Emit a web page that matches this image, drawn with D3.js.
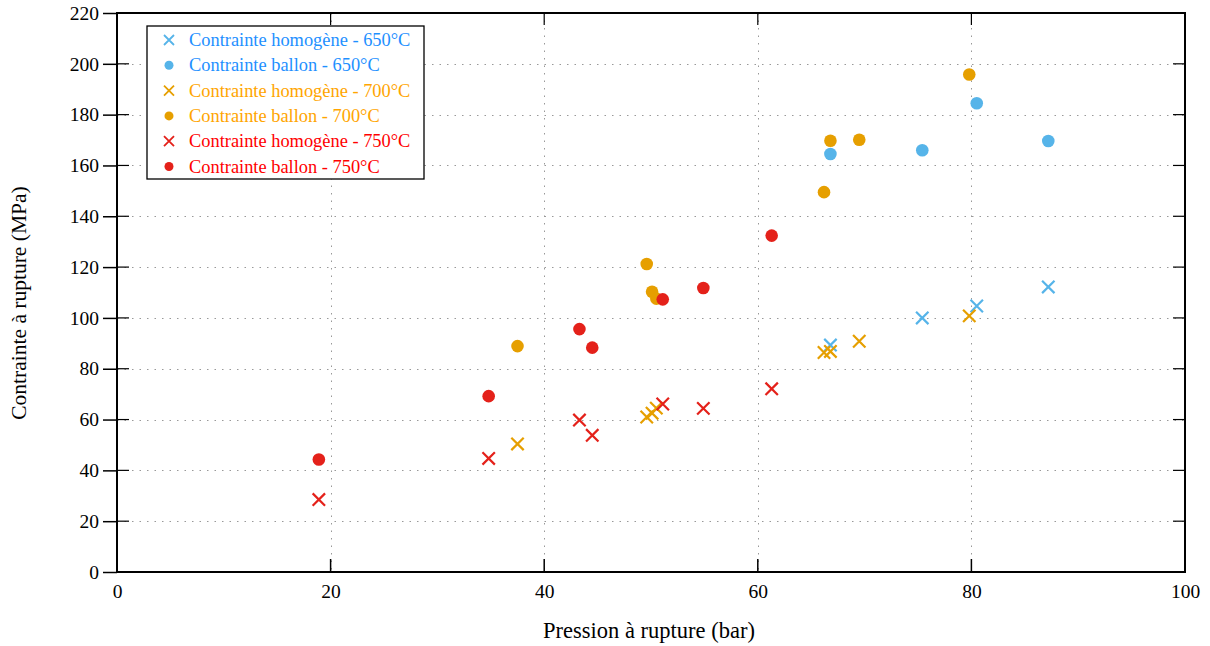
<!DOCTYPE html>
<html>
<head>
<meta charset="utf-8">
<script src="https://cdn.jsdelivr.net/npm/d3@7"></script>
<style>
  html, body { margin: 0; padding: 0; background: #fff; }
  svg { display: block; font-family: "Liberation Serif", "DejaVu Serif", serif; }
</style>
</head>
<body>
<svg id="chart" width="1210" height="646"></svg>
<script>
// ---- Data ----
const xTicks = [0, 20, 40, 60, 80, 100];
const yTicks = [0, 20, 40, 60, 80, 100, 120, 140, 160, 180, 200, 220];

const homog650_x = [66.8, 75.4, 80.5, 87.2];
const homog650_y = [89.3, 100.0, 104.7, 112.2];
const ballon650_x = [66.8, 75.4, 80.5, 87.2];
const ballon650_y = [164.5, 166.0, 184.5, 169.6];

const homog700_x = [37.5, 49.6, 50.1, 50.5, 66.2, 66.8, 69.5, 79.8];
const homog700_y = [50.4, 61.0, 62.5, 64.5, 86.4, 86.8, 90.8, 100.8];
const ballon700_x = [37.5, 49.6, 50.1, 50.5, 66.2, 66.8, 69.5, 79.8];
const ballon700_y = [88.9, 121.2, 110.3, 107.6, 149.5, 169.7, 170.1, 195.8];

const homog750_x = [18.9, 34.8, 43.3, 44.5, 51.1, 54.9, 61.3];
const homog750_y = [28.5, 44.7, 59.8, 53.8, 66.1, 64.4, 72.1];
const ballon750_x = [18.9, 34.8, 43.3, 44.5, 51.1, 54.9, 61.3];
const ballon750_y = [44.3, 69.2, 95.6, 88.3, 107.3, 111.8, 132.4];

const seriesNames = [
  "Contrainte homogène - 650°C",
  "Contrainte ballon - 650°C",
  "Contrainte homogène - 700°C",
  "Contrainte ballon - 700°C",
  "Contrainte homogène - 750°C",
  "Contrainte ballon - 750°C"
];
const markerColors = ["#56B4E9", "#56B4E9", "#E69F00", "#E69F00", "#E4211A", "#E4211A"];
const textColors = ["#1E90FF", "#1E90FF", "#FFA500", "#FFA500", "#FF0000", "#FF0000"];
const markerTypes = ["cross", "circle", "cross", "circle", "cross", "circle"];

const series = [
  {x: homog650_x, y: homog650_y},
  {x: ballon650_x, y: ballon650_y},
  {x: homog700_x, y: homog700_y},
  {x: ballon700_x, y: ballon700_y},
  {x: homog750_x, y: homog750_y},
  {x: ballon750_x, y: ballon750_y}
].map((s, i) => ({
  name: seriesNames[i], color: markerColors[i], textColor: textColors[i], type: markerTypes[i],
  points: s.x.map((v, j) => ({x: v, y: s.y[j]}))
}));

// ---- Layout ----
const W = 1210, H = 646;
const margin = {left: 117, right: 25, top: 13, bottom: 74};
const iw = W - margin.left - margin.right;
const ih = H - margin.top - margin.bottom;

const svg = d3.select("#chart");
const g = svg.append("g").attr("transform", `translate(${margin.left},${margin.top})`);

const x = d3.scaleLinear().domain([0, 100]).range([0, iw]);
const y = d3.scaleLinear().domain([0, 220]).range([ih, 0]);

// grid
g.append("g").selectAll("line").data(yTicks.slice(1, -1)).join("line")
  .attr("x1", 0).attr("x2", iw)
  .attr("y1", d => Math.round(y(d)) + 0.5).attr("y2", d => Math.round(y(d)) + 0.5)
  .attr("stroke", "#999").attr("stroke-width", 1).attr("stroke-dasharray", "1.5,6");
g.append("g").selectAll("line").data(xTicks.slice(1, -1)).join("line")
  .attr("y1", 0).attr("y2", ih)
  .attr("x1", d => Math.round(x(d)) + 0.5).attr("x2", d => Math.round(x(d)) + 0.5)
  .attr("stroke", "#999").attr("stroke-width", 1).attr("stroke-dasharray", "1.5,6");

// axes
const fs = 19.5;
const yAxis = g.append("g")
  .call(d3.axisLeft(y).tickValues(yTicks).tickSize(14).tickPadding(4).tickFormat(d3.format("d")));
yAxis.select(".domain").remove();
yAxis.selectAll("text").attr("font-size", fs).attr("fill", "#000").attr("font-family", "Liberation Serif");
yAxis.selectAll("line").attr("stroke", "#000").attr("stroke-width", 1.5);
// inward part of left ticks
g.append("g").selectAll("line").data(yTicks).join("line")
  .attr("x1", 0).attr("x2", 12).attr("y1", d => y(d)).attr("y2", d => y(d))
  .attr("stroke", "#000").attr("stroke-width", 1.2);

const xAxis = g.append("g").attr("transform", `translate(0,${ih})`)
  .call(d3.axisBottom(x).tickValues(xTicks).tickSize(0).tickPadding(12).tickFormat(d3.format("d")));
xAxis.select(".domain").remove();
xAxis.selectAll("text").attr("font-size", fs).attr("fill", "#000").attr("font-family", "Liberation Serif");
// inward bottom ticks
g.append("g").selectAll("line").data(xTicks).join("line")
  .attr("x1", d => x(d)).attr("x2", d => x(d)).attr("y1", ih).attr("y2", ih - 13)
  .attr("stroke", "#000").attr("stroke-width", 1.5);
// inward top ticks
g.append("g").selectAll("line").data(xTicks).join("line")
  .attr("x1", d => x(d)).attr("x2", d => x(d)).attr("y1", 0).attr("y2", 12)
  .attr("stroke", "#000").attr("stroke-width", 1.2);
// inward right ticks
g.append("g").selectAll("line").data(yTicks).join("line")
  .attr("x1", iw).attr("x2", iw - 12).attr("y1", d => y(d)).attr("y2", d => y(d))
  .attr("stroke", "#000").attr("stroke-width", 1.2);

// frame
g.append("rect").attr("x", 0).attr("y", 0).attr("width", iw).attr("height", ih)
  .attr("fill", "none").attr("stroke", "#000").attr("stroke-width", 2);

// axis titles
svg.append("text").attr("x", 649).attr("y", 638)
  .attr("text-anchor", "middle").attr("font-size", 22.5).attr("fill", "#000")
  .text("Pression à rupture (bar)");
svg.append("text").attr("transform", `translate(26,${303}) rotate(-90)`)
  .attr("text-anchor", "middle").attr("font-size", 21.5).attr("fill", "#000")
  .text("Contrainte à rupture (MPa)");

// markers
const cr = 6.2, rr = 6.3;
function drawMarker(sel, type, color) {
  if (type === "circle") {
    sel.append("circle").attr("r", rr).attr("fill", color);
  } else {
    sel.append("path").attr("d", `M${-cr},${-cr}L${cr},${cr}M${-cr},${cr}L${cr},${-cr}`)
      .attr("stroke", color).attr("stroke-width", 2.2).attr("fill", "none");
  }
}
const plot = g.append("g");
series.forEach(s => {
  plot.append("g").selectAll("g").data(s.points).join("g")
    .attr("transform", d => `translate(${x(d.x)},${y(d.y)})`)
    .each(function() { drawMarker(d3.select(this), s.type, s.color); });
});

// legend
const lg = svg.append("g").attr("transform", "translate(147,26)");
lg.append("rect").attr("x", 0).attr("y", 0).attr("width", 277).attr("height", 153)
  .attr("fill", "#fff").attr("stroke", "#000").attr("stroke-width", 1.3);
series.forEach((s, i) => {
  const row = lg.append("g").attr("transform", `translate(0,${14 + i * 25.3})`);
  const m = row.append("g").attr("transform", "translate(22,0)");
  if (s.type === "circle") {
    m.append("circle").attr("r", 4.5).attr("fill", s.color);
  } else {
    m.append("path").attr("d", "M-5,-5L5,5M-5,5L5,-5").attr("stroke", s.color)
      .attr("stroke-width", 1.8).attr("fill", "none");
  }
  row.append("text").attr("x", 42).attr("y", 6).attr("font-size", 18.4)
    .attr("fill", s.textColor).text(s.name);
});
</script>
</body>
</html>
